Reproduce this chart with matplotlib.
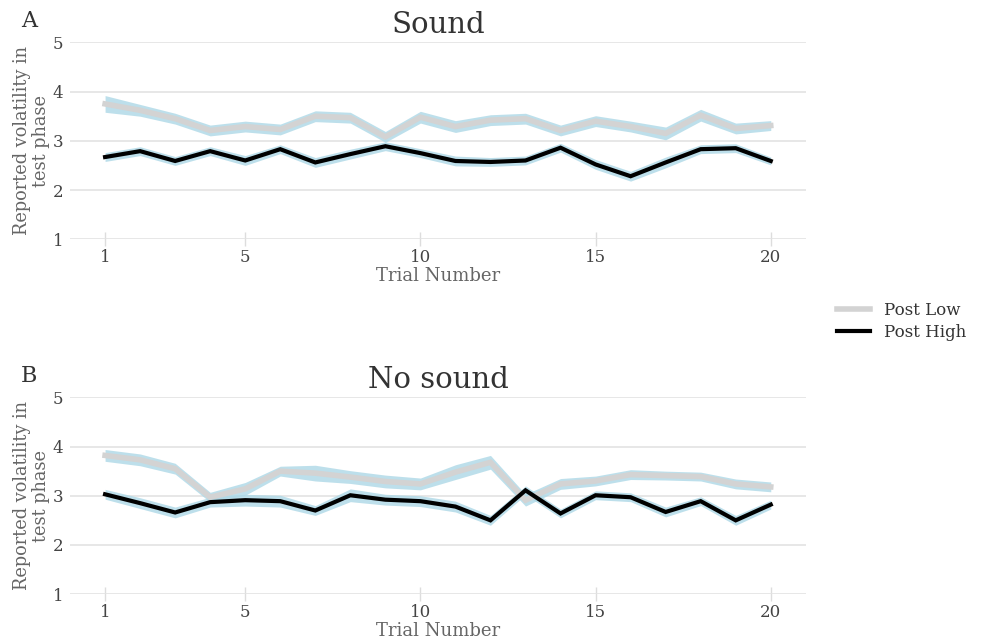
import numpy as np
import matplotlib
matplotlib.use("Agg")
import matplotlib.pyplot as plt

trials = np.arange(1, 21)

# Panel A: sound condition
sound_low = [3.75, 3.62, 3.45, 3.21, 3.29, 3.23, 3.50, 3.47, 3.08, 3.48,
             3.29, 3.42, 3.45, 3.21, 3.40, 3.29, 3.15, 3.52, 3.25, 3.31]
sound_low_ci = [0.17, 0.12, 0.11, 0.11, 0.11, 0.11, 0.11, 0.11, 0.11, 0.12,
                0.12, 0.11, 0.11, 0.11, 0.11, 0.11, 0.13, 0.12, 0.11, 0.10]
sound_high = [2.67, 2.79, 2.59, 2.79, 2.60, 2.83, 2.56, 2.73, 2.89, 2.75,
              2.59, 2.57, 2.60, 2.86, 2.52, 2.28, 2.56, 2.83, 2.85, 2.59]
sound_high_ci = [0.09, 0.09, 0.09, 0.09, 0.10, 0.09, 0.10, 0.10, 0.09, 0.09,
                 0.10, 0.09, 0.09, 0.09, 0.10, 0.10, 0.11, 0.09, 0.09, 0.08]

# Panel B: no sound condition
nosound_low = [3.82, 3.73, 3.55, 2.97, 3.14, 3.50, 3.46, 3.38, 3.29, 3.24,
               3.48, 3.68, 2.91, 3.24, 3.30, 3.43, 3.41, 3.39, 3.24, 3.18]
nosound_low_ci = [0.12, 0.12, 0.11, 0.10, 0.13, 0.10, 0.16, 0.13, 0.13, 0.12,
                  0.15, 0.14, 0.12, 0.11, 0.10, 0.10, 0.09, 0.09, 0.10, 0.10]
nosound_high = [3.03, 2.85, 2.66, 2.87, 2.91, 2.89, 2.70, 3.01, 2.92, 2.89,
                2.78, 2.50, 3.11, 2.64, 3.01, 2.97, 2.67, 2.89, 2.50, 2.82]
nosound_high_ci = [0.10, 0.11, 0.11, 0.10, 0.12, 0.12, 0.10, 0.13, 0.11, 0.11,
                   0.11, 0.10, 0.09, 0.09, 0.09, 0.09, 0.10, 0.09, 0.10, 0.09]

panels = [
    ("A", "Sound", sound_low, sound_low_ci, sound_high, sound_high_ci),
    ("B", "No sound", nosound_low, nosound_low_ci, nosound_high, nosound_high_ci),
]

plt.rcParams["font.family"] = ["DejaVu Serif"]

fig = plt.figure(figsize=(9.81, 6.43), dpi=100)
axes = [fig.add_axes([0.0714, 0.628, 0.750, 0.306]),
        fig.add_axes([0.0714, 0.076, 0.750, 0.306])]

band_color = "#add8e6"
low_color = "#d3d3d3"

for ax, (letter, title, low, low_ci, high, high_ci) in zip(axes, panels):
    low = np.array(low)
    high = np.array(high)
    ax.fill_between(trials, low - np.array(low_ci), low + np.array(low_ci),
                    color=band_color, alpha=0.8, lw=0)
    ax.fill_between(trials, high - np.array(high_ci), high + np.array(high_ci),
                    color=band_color, alpha=0.8, lw=0)
    ax.plot(trials, low, color=low_color, lw=4.0, label="Post Low",
            solid_joinstyle="miter")
    ax.plot(trials, high, color="black", lw=3.0, label="Post High",
            solid_joinstyle="miter")

    ax.set_xlim(0, 21)
    ax.set_ylim(1, 5)
    ax.set_xticks([1, 5, 10, 15, 20])
    ax.set_yticks([1, 2, 3, 4, 5])
    ax.grid(axis="y", color="#e3e3e3", lw=1.2)
    ax.set_axisbelow(True)
    for s in ax.spines.values():
        s.set_visible(False)
    ax.tick_params(axis="x", direction="inout", length=10, width=1,
                   color="#dddddd", labelcolor="#444444", labelsize=12, pad=2)
    ax.tick_params(axis="y", length=0, labelcolor="#444444", labelsize=12, pad=5)
    ax.set_xlabel("Trial Number", fontsize=13, color="#666666", labelpad=1)
    ax.set_ylabel("Reported volatility in\ntest phase", fontsize=12.8,
                  color="#666666", linespacing=1.05)
    ax.yaxis.set_label_coords(-0.027, 0.5)
    ax.set_title(title, fontsize=21, color="#333333", pad=7)
    ax.text(-0.067, 1.11, letter, transform=ax.transAxes, fontsize=16,
            color="#333333", ha="left", va="center")

handles, labels = axes[0].get_legend_handles_labels()
fig.legend(handles, labels, loc="center left", bbox_to_anchor=(0.838, 0.50),
           frameon=False, fontsize=12, handlelength=2.0, labelspacing=0.3,
           labelcolor="#333333")

fig.savefig("out.png", dpi=100)
